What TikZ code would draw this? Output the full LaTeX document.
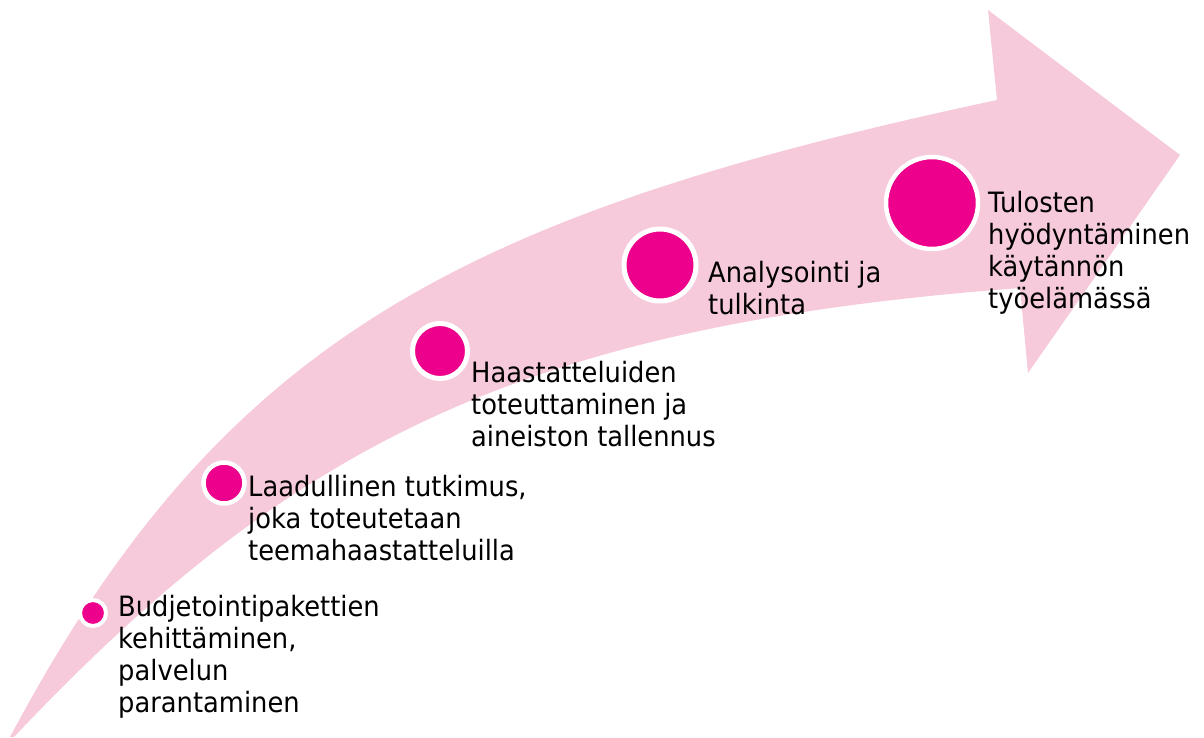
\documentclass[tikz,border=0pt]{standalone}
\usepackage{fontspec}
\setmainfont{DejaVu Sans}[FakeStretch=0.92]
\definecolor{bandpink}{RGB}{246,202,218}
\definecolor{dotpink}{RGB}{236,0,140}
\begin{document}
\begin{tikzpicture}[x=1pt,y=-1pt,
  stagedot/.style={circle, fill=dotpink, draw=white, inner sep=0pt},
  stagetext/.style={anchor=north west, inner sep=0pt, align=left,
    font=\fontsize{28}{32}\selectfont}]
\useasboundingbox (0,0) rectangle (1204,737);

% curved pink arrow
\fill[bandpink] (10,737) .. controls (221,341) and (458,215) .. (997,100)
  -- (988,10) -- (1180,155) -- (1028,373) -- (1020,288)
  .. controls (520,325.5) and (290,445) .. (14,737) -- cycle;

% stage markers
\node[stagedot, minimum size=26pt, line width=4pt] (d1) at (93,613) {};
\node[stagedot, minimum size=41pt, line width=4.5pt] (d2) at (224,483) {};
\node[stagedot, minimum size=55pt, line width=5pt] (d3) at (440,351) {};
\node[stagedot, minimum size=72pt, line width=5pt] (d4) at (660,265) {};
\node[stagedot, minimum size=92pt, line width=4.5pt] (d5) at (932,203) {};

% stage descriptions
\node[stagetext] (t1) at (118,595.5) {Budjetointipakettien\\kehittäminen,\\palvelun\\parantaminen};
\node[stagetext] (t2) at (248,475.5) {Laadullinen tutkimus,\\joka toteutetaan\\teemahaastatteluilla};
\node[stagetext] (t3) at (471,361.5) {Haastatteluiden\\toteuttaminen ja\\aineiston tallennus};
\node[stagetext] (t4) at (708,261.5) {Analysointi ja\\tulkinta};
\node[stagetext] (t5) at (988,191.5) {Tulosten\\hyödyntäminen\\käytännön\\työelämässä};
\end{tikzpicture}
\end{document}
